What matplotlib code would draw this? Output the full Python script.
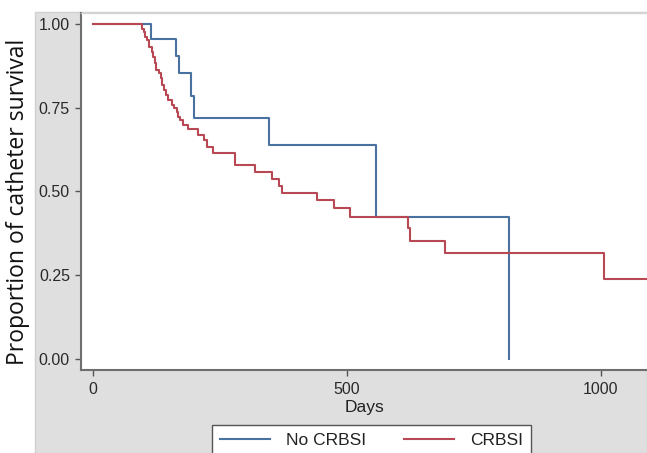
import matplotlib
matplotlib.use("Agg")
import matplotlib.pyplot as plt
from matplotlib.patches import Rectangle

# Kaplan-Meier step data (days, survival proportion after event)
no_crbsi_days = [0, 114, 163, 170, 192, 199, 346, 558, 819]
no_crbsi_surv = [1.0, 0.954, 0.904, 0.853, 0.785, 0.718, 0.639, 0.425, 0.0]

crbsi_days = [0, 96, 100, 102, 106, 110, 116, 119, 123, 125, 130, 134, 136, 140,
              143, 148, 156, 160, 165, 167, 171, 178, 187, 207, 218, 225, 236,
              279, 318, 352, 366, 372, 440, 474, 505, 620, 624, 693, 1005, 1100]
crbsi_surv = [1.0, 0.985, 0.977, 0.962, 0.952, 0.932, 0.917, 0.902, 0.883, 0.863,
              0.853, 0.838, 0.818, 0.803, 0.788, 0.772, 0.758, 0.748, 0.738, 0.723,
              0.713, 0.699, 0.687, 0.669, 0.654, 0.634, 0.616, 0.578, 0.559, 0.537,
              0.516, 0.496, 0.475, 0.450, 0.425, 0.390, 0.353, 0.317, 0.238, 0.238]

x_ticks = [0, 500, 1000]
y_ticks = [0.0, 0.25, 0.50, 0.75, 1.00]
y_tick_labels = ["0.00", "0.25", "0.50", "0.75", "1.00"]
series_names = ["No CRBSI", "CRBSI"]

W, H = 647, 453
fig = plt.figure(figsize=(W / 100, H / 100), dpi=100)
fig.patch.set_facecolor("white")

# gray outer panel
bg = Rectangle((35 / W, 0), 1 - 35 / W, 1 - 12 / H,
               transform=fig.transFigure, facecolor="#dfdfdf",
               edgecolor="#d0d0d0", linewidth=1.0, zorder=-10)
fig.add_artist(bg)

ax = fig.add_axes([81 / W, 1 - 370 / H, (W - 81) / W, (370 - 13) / H])
ax.set_zorder(1)
ax.set_facecolor("white")

blue = "#4a72a0"
red = "#b84854"
ax.step(no_crbsi_days, no_crbsi_surv, where="post", color=blue, lw=1.5,
        label=series_names[0], zorder=2)
ax.step(crbsi_days, crbsi_surv, where="post", color=red, lw=1.5,
        label=series_names[1], zorder=3)

ax.set_xlim(-23.6, 1090.6)
ax.set_ylim(-0.0328, 1.0328)

ax.set_xticks(x_ticks)
ax.set_yticks(y_ticks)
ax.set_yticklabels(y_tick_labels)
ax.tick_params(axis="both", direction="out", length=4.5, width=1.0,
               color="#555555", labelsize=11.5, labelcolor="#2a2a2a")
ax.tick_params(axis="y", pad=3.5)
ax.tick_params(axis="x", pad=4)
for lab in ax.get_xticklabels() + ax.get_yticklabels():
    lab.set_fontfamily("Liberation Sans")

for side in ["left", "bottom"]:
    ax.spines[side].set_color("#6e6e6e")
    ax.spines[side].set_linewidth(1.5)
ax.spines["top"].set_color("#d6d6d6")
ax.spines["top"].set_linewidth(1.0)
ax.spines["right"].set_visible(False)

ax.set_xlabel("Days", fontsize=12.5, family="Liberation Sans", color="#222222",
              labelpad=2)

fig.text(18.5 / W, 1 - 202 / H, "Proportion of catheter survival",
         rotation=90, ha="center", va="center", fontsize=16.5,
         family="Open Sans", color="#111111")

leg = fig.legend(loc="upper left", bbox_to_anchor=(212 / W, 1 - 425 / H),
                 ncol=2, frameon=True, fancybox=False,
                 prop={"family": "Liberation Sans", "size": 12.5},
                 handlelength=2.9, handletextpad=0.9, columnspacing=2.2,
                 borderpad=0.45, borderaxespad=0)
leg.set_zorder(5)
leg.get_frame().set_edgecolor("#555555")
leg.get_frame().set_linewidth(1.0)
leg.get_frame().set_facecolor("white")
leg.get_frame().set_alpha(1.0)
for t in leg.get_texts():
    t.set_color("#222222")

fig.savefig("out.png", dpi=100)
